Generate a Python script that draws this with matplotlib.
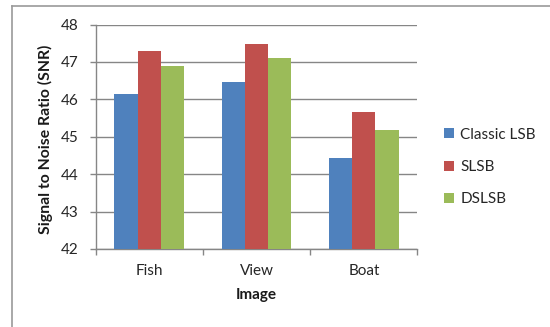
import matplotlib
matplotlib.use("Agg")
import matplotlib.pyplot as plt
from matplotlib.lines import Line2D
import numpy as np

# SNR per test image for each embedding method
images = ['Fish', 'View', 'Boat']
methods = ['Classic LSB', 'SLSB', 'DSLSB']
snr_classic = [46.13, 46.46, 44.42]
snr_slsb = [47.29, 47.48, 45.65]
snr_dslsb = [46.89, 47.11, 45.19]
couleurs = ['#4F81BD', '#C0504D', '#9BBB59']

yticks = [42, 43, 44, 45, 46, 47, 48]

plt.rcParams['font.family'] = ['Lato', 'DejaVu Sans']
W, H = 550, 327
fig = plt.figure(figsize=(W / 100, H / 100), dpi=100)

# zone du graphe en pixels
x0, x1, y0, y1 = 95.5, 417.5, 249, 24.5
ax = fig.add_axes([x0 / W, 1 - y0 / H, (x1 - x0) / W, (y0 - y1) / H])

x = np.arange(len(images))
largeur = 0.217
series = [snr_classic, snr_slsb, snr_dslsb]
for k, (vals, nom, c) in enumerate(zip(series, methods, couleurs)):
    ax.bar(x + (k - 1) * largeur, np.array(vals) - 42, width=largeur, bottom=42,
           color=c, label=nom, zorder=3, linewidth=0)

ax.set_xlim(-0.5, 2.5)
ax.set_ylim(42, 48)
ax.set_yticks(yticks)
ax.yaxis.grid(True, color='#868686', linewidth=1.0, zorder=0)

gris = '#868686'
for s in ['top', 'right']:
    ax.spines[s].set_visible(False)
for s in ['left', 'bottom']:
    ax.spines[s].set_color(gris)
    ax.spines[s].set_linewidth(1.0)

ax.tick_params(axis='y', length=4.3, width=1.0, color=gris, pad=7.7,
               labelsize=11, labelcolor='#262626')
ax.set_xticks(x)
ax.set_xticklabels(images)
ax.set_xticks([-0.5, 0.5, 1.5, 2.5], minor=True)
ax.tick_params(axis='x', which='major', length=0, pad=10.5, labelsize=11,
               labelcolor='#262626')
ax.tick_params(axis='x', which='minor', length=4.3, width=1.0, color=gris)

ax.set_xlabel('Image', fontsize=11, fontweight='bold', color='#1a1a1a')
ax.xaxis.set_label_coords(0.5, (y0 - 288) / (y0 - y1))
ax.xaxis.label.set_va('top')
ax.set_ylabel('Signal to Noise Ratio (SNR)', fontsize=11.3, fontweight='bold',
              color='#1a1a1a')
ax.yaxis.set_label_coords((53 - x0) / (x1 - x0), (y0 - 139) / (y0 - y1))

ax.legend(loc='center left', bbox_to_anchor=(444 / W, 1 - 167 / H),
          bbox_transform=fig.transFigure, frameon=False, fontsize=11,
          handlelength=0.65, handleheight=0.65, handletextpad=0.42,
          labelspacing=1.2, borderpad=0, borderaxespad=0,
          labelcolor='#262626')

# cadre exterieur
fig.add_artist(Line2D([12 / W, 12 / W], [0, 1 - 5.5 / H], color='#9a9a9a',
                      linewidth=1.2, transform=fig.transFigure))
fig.add_artist(Line2D([12 / W, 1], [1 - 5.5 / H, 1 - 5.5 / H], color='#9a9a9a',
                      linewidth=1.2, transform=fig.transFigure))

fig.savefig('out.png', dpi=100)
